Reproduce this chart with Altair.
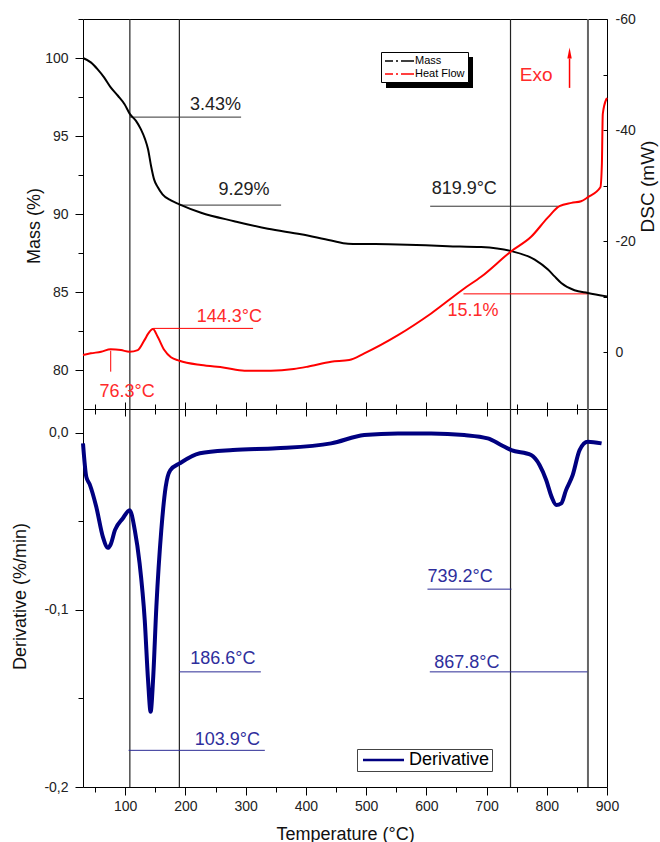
import altair as alt
import pandas as pd

FONT = "Liberation Sans"

# ---------------- data ----------------
mass_T = [30, 43, 54, 65, 76, 88, 99, 108, 118, 126, 133, 138, 143, 148, 154, 162, 176, 190, 226, 281,
          337, 392, 442, 470, 553, 636, 691, 741, 780, 802, 813, 824, 846, 868, 900]
mass_v = [100.0, 99.72, 99.29, 98.76, 98.12, 97.58, 97.04, 96.4, 95.97, 95.44, 94.8, 94.15, 93.08, 92.22,
          91.73, 91.26, 90.87, 90.62, 90.08, 89.54, 89.05, 88.7, 88.3, 88.1, 88.05, 87.94, 87.88, 87.62,
          87.08, 86.44, 86.0, 85.58, 85.11, 84.94, 84.72]

hf_T = [30, 43, 60, 76, 93, 107, 121, 132, 138.5, 146, 154, 165, 176, 190, 226, 265, 298, 342, 380, 403,
        442, 472, 497, 553, 608, 663, 691, 741, 774, 802, 821, 841, 857, 868, 889, 891.5, 893, 899, 900]
hf_v = [0.48, 0.18, -0.1, -0.54, -0.4, -0.11, -0.41, -2.2, -3.4, -4.2, -2.8, -0.41, 0.9, 1.51, 2.3, 2.76,
        3.3, 3.3, 3.0, 2.58, 1.69, 1.38, 0.18, -3.1, -7.0, -11.5, -13.6, -18.2, -20.8, -24.3, -26.3, -26.9,
        -27.2, -27.9, -29.7, -33.9, -42.9, -45.6, -45.8]

d_T = [30, 35.5, 41, 52, 63, 71.5, 76, 83, 96, 107.5, 116, 124, 132.5, 138, 142.3, 146.3, 151.8, 160,
       167.3, 175, 190.5, 224, 279, 351, 442, 497, 553, 608, 663, 702, 724, 741, 774, 788, 799, 808, 816,
       824, 832, 843, 854.5, 868, 891]
d_v = [-0.006, -0.0249, -0.029, -0.0418, -0.0588, -0.065, -0.063, -0.055, -0.0484, -0.0437, -0.055,
       -0.0738, -0.1058, -0.1397, -0.1575, -0.1397, -0.0983, -0.055, -0.0305, -0.0211, -0.0173, -0.0116,
       -0.0098, -0.0088, -0.006, -0.0013, -0.0004, -0.0004, -0.0013, -0.0032, -0.0069, -0.0098, -0.0126,
       -0.0182, -0.0267, -0.0362, -0.0408, -0.0399, -0.0324, -0.0239, -0.0098, -0.0051, -0.006]

vlines_T = [107.8, 190, 739.8, 868.4]

# mass-level annotations (top panel)
mass_lbl = ["3.43%", "9.29%", "15.1%"]
mass_lx1 = [107.8, 190, 661.7]
mass_lx2 = [292.5, 358.9, 868.4]
mass_ly = [96.21, 90.57, 84.88]
mass_tx = [249.9, 297.4, 677.5]
mass_ty = [96.66, 91.21, 83.44]

# heat-flow annotations (top panel)
dsc_lbl = ["144.3°C", "819.9°C", "76.3°C"]
dsc_lx1 = [146.8, 606.4, 76.0]
dsc_lx2 = [312.4, 818.5, 76.0]
dsc_ly1 = [-4.31, -26.3, -0.29]
dsc_ly2 = [-4.31, -26.3, 3.48]
dsc_tx = [273.0, 663.0, 103.1]
dsc_ty = [-5.49, -28.5, 8.08]

# derivative annotations (bottom panel)
der_lbl = ["186.6°C", "103.9°C", "739.2°C", "867.8°C"]
der_lx1 = [190, 105.7, 601.9, 605.8]
der_lx2 = [325.3, 331.9, 741.4, 867.5]
der_ly = [-0.135, -0.1793, -0.0883, -0.135]
der_tx = [262.2, 269.7, 656.0, 667.2]
der_ty = [-0.1303, -0.1764, -0.0842, -0.1331]

exo_T, exo_y = 782.5, -48.9
arrow_T, arrow_y1, arrow_y2, arrow_head = 837.8, -47.6, -52.9, -53.9

X_TICKS = list(range(50, 901, 50))
MASS_TICKS = [80, 82.5, 85, 87.5, 90, 92.5, 95, 97.5, 100, 102.5]
DSC_TICKS = [-60, -50, -40, -30, -20, -10, 0]
DER_TICKS = [-0.2, -0.15, -0.1, -0.05, 0.0]

# ---------------- styles ----------------
RED = "#ff0000"
RED_TXT = "#ff2a2a"
BLUE_TXT = "#2e2e9c"
BLUE_LN = "#2b2b95"
NAVY = "#000080"
DARK = "#222222"

W, H1, H2 = 524, 390, 378

xs = alt.Scale(domain=[30, 900], nice=False, zero=False)
ms = alt.Scale(domain=[77.5, 102.5], nice=False, zero=False)
dsc = alt.Scale(domain=[-60, 10.2], nice=False, zero=False, reverse=True)
dvs = alt.Scale(domain=[-0.2, 0.0134], nice=False, zero=False)


def cond(test, a, b):
    return {"condition": {"test": test, "value": a}, "value": b}


NOX = alt.X("T:Q", scale=xs, axis=None)
MAJ100 = "datum.value % 100 === 0"

# ---------------- top panel ----------------
mass_df = pd.DataFrame({"T": mass_T, "v": mass_v, "series": "Mass"})
hf_df = pd.DataFrame({"T": hf_T, "v": hf_v, "series": "Heat Flow"})
vl_df = pd.DataFrame({"T": vlines_T[:3]})
vl2_df = pd.DataFrame({"T": vlines_T[3:]})

top_color = alt.Color(
    "series:N",
    scale=alt.Scale(domain=["Mass", "Heat Flow"], range=["black", RED]),
    legend=alt.Legend(title=None, orient="none", legendX=298, legendY=33, fillColor="white",
                      strokeColor="black", padding=3, rowPadding=2, symbolType="M-1,0H4.8",
                      symbolSize=100, symbolStrokeWidth=1.5, symbolDash=[8, 3, 2, 3, 13],
                      labelFont=FONT, labelFontSize=11, labelOffset=19, labelColor="black"),
)

top_x_axis = alt.Axis(orient="bottom", values=X_TICKS, labels=False, title=None, domain=False, grid=False,
                      tickColor="black", tickSize=cond(MAJ100, 7, 5))
mass_axis = alt.Axis(orient="left", values=MASS_TICKS, labelExpr="datum.value % 5 === 0 ? datum.label : ''",
                     tickSize=cond("datum.value % 5 === 0", 8, 5), labelPadding=7, labelOverlap=False,
                     title="Mass (%)", titleX=-40, titleY=206.5, titleAngle=270, titleBaseline="bottom",
                     grid=False, domain=False)
dsc_axis = alt.Axis(orient="right", values=DSC_TICKS,
                    labelExpr="datum.value % 20 === 0 ? toString(datum.value) : ''",
                    tickSize={"expr": "-4"}, labelPadding=12, labelOverlap=False, title="DSC (mW)",
                    titleX=31, titleY=167, titleAngle=270, titleBaseline="top", titleFontSize=19,
                    grid=False, domain=False)

vlines_top = alt.Chart(vl_df).mark_rule(color=DARK, strokeWidth=1.2).encode(x=NOX)
vlines_top2 = alt.Chart(vl2_df).mark_rule(color="#666666", strokeWidth=2).encode(x=NOX)

mass_line = alt.Chart(mass_df).mark_line(strokeWidth=2, interpolate="monotone").encode(
    x=alt.X("T:Q", scale=xs, axis=top_x_axis),
    y=alt.Y("v:Q", scale=ms, axis=mass_axis),
    color=top_color,
)
hf_line = alt.Chart(hf_df).mark_line(strokeWidth=2, interpolate="monotone").encode(
    x=NOX,
    y=alt.Y("v:Q", scale=dsc, axis=dsc_axis),
    color=top_color,
)

mass_ann = pd.DataFrame({"lbl": mass_lbl, "x1": mass_lx1, "x2": mass_lx2, "y": mass_ly,
                         "tx": mass_tx, "ty": mass_ty})
mass_ann["lc"] = ["#333333", "#333333", RED]
mass_ann["tc"] = [DARK, DARK, RED_TXT]

mass_rules = alt.Chart(mass_ann).mark_rule(strokeWidth=1).encode(
    x=alt.X("x1:Q", scale=xs, axis=None), x2="x2:Q", y=alt.Y("y:Q", scale=ms, axis=None),
    color=alt.Color("lc:N", scale=None)
)
mass_texts = alt.Chart(mass_ann).mark_text(font=FONT, fontSize=18, align="center", baseline="alphabetic").encode(
    x=alt.X("tx:Q", scale=xs, axis=None), y=alt.Y("ty:Q", scale=ms, axis=None), text="lbl:N",
    color=alt.Color("tc:N", scale=None)
)

dsc_ann = pd.DataFrame({"lbl": dsc_lbl, "x1": dsc_lx1, "x2": dsc_lx2, "y1": dsc_ly1, "y2": dsc_ly2,
                        "tx": dsc_tx, "ty": dsc_ty})
dsc_ann["lc"] = [RED, "#333333", RED]
dsc_ann["tc"] = [RED_TXT, DARK, RED_TXT]

dsc_rules = alt.Chart(dsc_ann).mark_rule(strokeWidth=1).encode(
    x=alt.X("x1:Q", scale=xs, axis=None), x2="x2:Q",
    y=alt.Y("y1:Q", scale=dsc, axis=None), y2="y2:Q", color=alt.Color("lc:N", scale=None)
)
dsc_texts = alt.Chart(dsc_ann).mark_text(font=FONT, fontSize=18, align="center", baseline="alphabetic").encode(
    x=alt.X("tx:Q", scale=xs, axis=None), y=alt.Y("ty:Q", scale=dsc, axis=None), text="lbl:N",
    color=alt.Color("tc:N", scale=None)
)

exo_df = pd.DataFrame({"T": [exo_T], "y": [exo_y], "t": ["Exo"]})
exo_text = alt.Chart(exo_df).mark_text(font=FONT, fontSize=19, color=RED_TXT, align="center",
                                       baseline="alphabetic").encode(
    x=NOX, y=alt.Y("y:Q", scale=dsc, axis=None), text="t:N")
arrow_df = pd.DataFrame({"T": [arrow_T], "y1": [arrow_y1], "y2": [arrow_y2], "h": [arrow_head]})
arrow_line = alt.Chart(arrow_df).mark_rule(color=RED, strokeWidth=1.5).encode(
    x=NOX, y=alt.Y("y1:Q", scale=dsc, axis=None), y2="y2:Q")
arrow_headm = alt.Chart(arrow_df).mark_point(shape="M0,-1L0.4,1L-0.4,1Z", filled=True, size=121,
                                             color=RED, opacity=1).encode(
    x=NOX, y=alt.Y("h:Q", scale=dsc, axis=None))

shadow = alt.Chart(pd.DataFrame({"a": [0]})).mark_rect(color="black").encode(
    x=alt.value(303), x2=alt.value(390), y=alt.value(38), y2=alt.value(69))

top = alt.layer(
    vlines_top, vlines_top2, mass_rules, dsc_rules, mass_line, hf_line, mass_texts, dsc_texts,
    exo_text, arrow_line, arrow_headm, shadow
).properties(width=W, height=H1).resolve_scale(y="independent").resolve_axis(x="independent", y="independent")

# ---------------- bottom panel ----------------
d_df = pd.DataFrame({"T": d_T, "v": d_v, "series": "Derivative"})

bot_top_axis = alt.Axis(orient="top", values=X_TICKS, labels=False, title=None, domain=False, grid=False,
                        tickColor="black", tickSize=cond(MAJ100, 7, 5))
bot_x_axis = alt.Axis(orient="bottom", values=X_TICKS, labelExpr="datum.value % 100 === 0 ? datum.label : ''",
                      labelFlush=False, labelOverlap=False, labelPadding=4, tickSize=cond(MAJ100, 8, 5),
                      title="Temperature (°C)", titleY=38, domain=False, grid=False)
der_axis = alt.Axis(orient="left", values=DER_TICKS,
                    labelExpr="round(datum.value*100) % 10 === 0 ? (datum.value < 0 ? '-' : '') + '0,' + toString(abs(round(datum.value*10))) : ''",
                    tickSize=cond("round(datum.value*100) % 10 === 0", 8, 5), labelPadding=7,
                    labelOverlap=False, title="Derivative (%/min)", titleX=-54, titleY=187, titleAngle=270,
                    titleBaseline="bottom", domain=False, grid=False)

vlines_bot = alt.Chart(vl_df).mark_rule(color=DARK, strokeWidth=1.2).encode(
    x=alt.X("T:Q", scale=xs, axis=bot_top_axis))
vlines_bot2 = alt.Chart(vl2_df).mark_rule(color="#666666", strokeWidth=2).encode(x=NOX)

der_line = alt.Chart(d_df).mark_line(strokeWidth=4, interpolate="monotone").encode(
    x=alt.X("T:Q", scale=xs, axis=bot_x_axis),
    y=alt.Y("v:Q", scale=dvs, axis=der_axis),
    color=alt.Color("series:N", scale=alt.Scale(domain=["Derivative"], range=[NAVY]),
                    legend=alt.Legend(title=None, orient="none", legendX=274, legendY=340, fillColor="white",
                                      strokeColor="#444444", padding=2, symbolType="M-1,0H7.2",
                                      symbolSize=100, symbolStrokeWidth=2.5, labelFont=FONT,
                                      labelFontSize=18, labelOffset=32, labelColor="black")),
)

der_ann = pd.DataFrame({"lbl": der_lbl, "x1": der_lx1, "x2": der_lx2, "y": der_ly, "tx": der_tx, "ty": der_ty})
der_rules = alt.Chart(der_ann).mark_rule(strokeWidth=1, color=BLUE_LN).encode(
    x=alt.X("x1:Q", scale=xs, axis=None), x2="x2:Q", y=alt.Y("y:Q", scale=dvs, axis=None))
der_texts = alt.Chart(der_ann).mark_text(font=FONT, fontSize=18, color=BLUE_TXT, align="center",
                                         baseline="alphabetic").encode(
    x=alt.X("tx:Q", scale=xs, axis=None), y=alt.Y("ty:Q", scale=dvs, axis=None), text="lbl:N")

bottom = alt.layer(
    vlines_bot, vlines_bot2, der_rules, der_line, der_texts
).properties(width=W, height=H2).resolve_axis(x="independent", y="independent")

chart = alt.vconcat(top, bottom, spacing=0, bounds="flush").resolve_scale(color="independent").properties(
    padding={"left": 10, "top": 11, "right": 2, "bottom": 0}
).configure_view(stroke="black", strokeWidth=1).configure_axis(
    labelFont=FONT, titleFont=FONT, labelFontSize=14, titleFontSize=18, labelColor=DARK, titleColor="#111111",
    titleFontWeight="normal", tickColor="black", grid=False, domain=False
)

chart.save("out.html", embed_options={"renderer": "svg", "actions": False})
